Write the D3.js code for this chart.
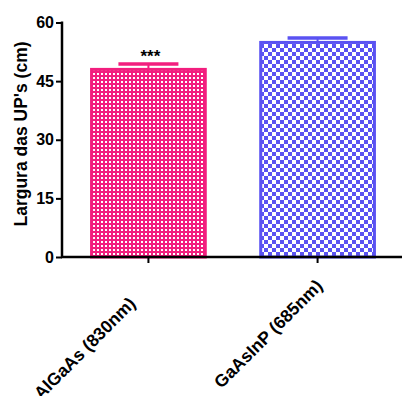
<!DOCTYPE html>
<html><head><meta charset="utf-8">
<script src="https://cdn.jsdelivr.net/npm/d3@7"></script>
<style>body{margin:0;background:#fff}svg{display:block}</style>
</head><body>
<script>
const categories = ["AlGaAs (830nm)", "GaAsInP (685nm)"];
const means = [48.0, 54.9];
const errors = [1.4, 1.15];
const sigLabels = ["***", ""];
const yTicks = [0, 15, 30, 45, 60];
const colors = ["#F21E7E", "#5A52F2"];

const W = 402, H = 396;
const FONT = "Liberation Sans, Arial, sans-serif";
const svg = d3.select("body").append("svg").attr("width", W).attr("height", H);
const defs = svg.append("defs");
const p1 = defs.append("pattern").attr("id","pat0").attr("patternUnits","userSpaceOnUse").attr("width",4).attr("height",4);
p1.append("rect").attr("width",4).attr("height",4).attr("fill",colors[0]);
p1.append("rect").attr("x",1).attr("y",1).attr("width",2).attr("height",2).attr("fill","#fff");
const s = 4;
const p2 = defs.append("pattern").attr("id","pat1").attr("patternUnits","userSpaceOnUse").attr("width",2*s).attr("height",2*s);
p2.append("rect").attr("width",2*s).attr("height",2*s).attr("fill","#fff");
p2.append("rect").attr("width",s).attr("height",s).attr("fill",colors[1]);
p2.append("rect").attr("x",s).attr("y",s).attr("width",s).attr("height",s).attr("fill",colors[1]);

const x0 = 62, x1 = 402, yTop = 22.5, yBot = 257;
const y = d3.scaleLinear().domain([0,60]).range([yBot, yTop]);
const x = d3.scaleBand().domain(categories).range([x0+1, x1+1]).paddingInner(0.31).paddingOuter(0.16);

const g = svg.append("g");
categories.forEach((c,i)=>{
  const bx = x(c), bw = x.bandwidth();
  const cx = bx + bw/2;
  const capY = y(means[i]+errors[i]);
  g.append("line").attr("x1",cx).attr("x2",cx).attr("y1",y(means[i])).attr("y2",capY)
    .attr("stroke",colors[i]).attr("stroke-width",2);
  g.append("line").attr("x1",cx-30).attr("x2",cx+30).attr("y1",capY).attr("y2",capY)
    .attr("stroke",colors[i]).attr("stroke-width",3.5);
  g.append("rect").attr("x",bx+1.5).attr("y",y(means[i])).attr("width",bw-3).attr("height",yBot-y(means[i]))
    .attr("fill",`url(#pat${i})`).attr("stroke",colors[i]).attr("stroke-width",3);
  if (sigLabels[i]) {
    g.append("text").attr("x",cx+2).attr("y",capY-1.5).attr("text-anchor","middle")
      .attr("font-family",FONT).attr("font-weight","bold").attr("font-size",17).text(sigLabels[i]);
  }
});

const ya = svg.append("g").attr("transform",`translate(${x0},0)`)
  .call(d3.axisLeft(y).tickValues(yTicks).tickSize(6).tickPadding(2).tickFormat(d3.format("d")));
ya.select(".domain").attr("stroke","#000").attr("stroke-width",2.5).attr("d",`M0,${yTop-1}V${yBot}`);
ya.selectAll(".tick line").attr("stroke","#000").attr("stroke-width",2);
ya.selectAll(".tick text").attr("font-family",FONT).attr("font-weight","bold").attr("font-size",16).attr("fill","#000");

const xa = svg.append("g").attr("transform",`translate(0,${yBot})`)
  .call(d3.axisBottom(x).tickSize(6).tickFormat(""));
xa.select(".domain").attr("stroke","#000").attr("stroke-width",2.5).attr("d",`M${x0-1},0H${x1}`);
xa.selectAll(".tick line").attr("stroke","#000").attr("stroke-width",2);
categories.forEach((c,i)=>{
  const cx = x(c)+x.bandwidth()/2;
  const shift = i === 0 ? -25 : 0;
  svg.append("text").attr("transform",`translate(${cx+6},${yBot+30}) rotate(-45)`)
    .attr("dx", shift)
    .attr("text-anchor","end").attr("font-family",FONT).attr("font-weight","bold")
    .attr("font-size",17.5).text(c);
});

svg.append("text").attr("transform",`translate(27,134) rotate(-90)`)
  .attr("text-anchor","middle").attr("font-family",FONT).attr("font-weight","bold")
  .attr("font-size",17.5).text("Largura das UP's (cm)");
</script>
</body></html>
